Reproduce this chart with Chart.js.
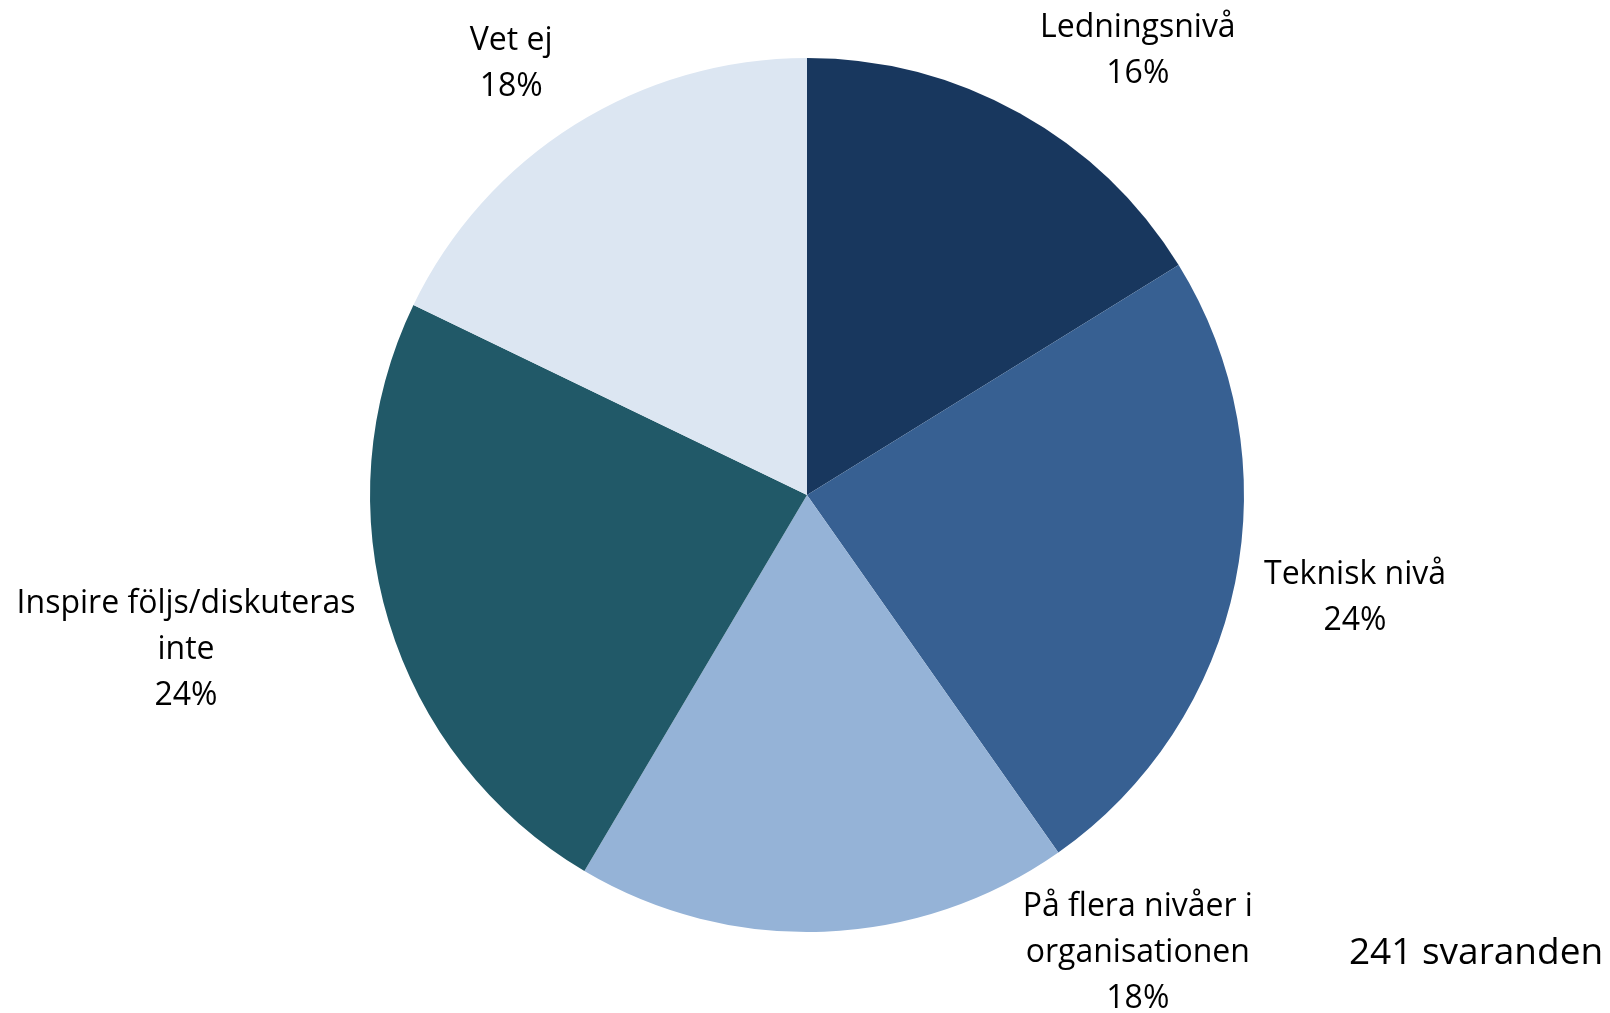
<!DOCTYPE html>
<html>
<head>
<meta charset="utf-8">
<script src="https://cdn.jsdelivr.net/npm/chart.js@4"></script>
<style>
  html, body { margin: 0; padding: 0; background: #fff; }
  #wrap { position: relative; width: 1610px; height: 1013px; }
</style>
</head>
<body>
<div id="wrap"><canvas id="chartPie" width="1610" height="1013"></canvas></div>
<script>
// Inspire — på vilken nivå följs/diskuteras Inspire (241 svaranden)

const kategorier = [
  ['Ledningsnivå'],
  ['Teknisk nivå'],
  ['På flera nivåer i', 'organisationen'],
  ['Inspire följs/diskuteras', 'inte'],
  ['Vet ej']
];
const antalSvar = [39, 58, 44, 57, 43];
const procentEtiketter = ['16%', '24%', '18%', '24%', '18%'];
const antalSvarande = '241 svaranden';

const farger = ['#18375e', '#376092', '#95b3d7', '#215968', '#dce6f2'];

// etikettplacering relativt cirkelns mitt, i radieenheter
const etikettPlats = [
  [0.757, -1.016],
  [1.254, 0.235],
  [0.757, 1.048],
  [-1.421, 0.355],
  [-0.677, -0.987]
];

const FONT = '"Open Sans", Lato, sans-serif';

const etikettPlugin = {
  id: 'etiketter',
  afterDraw(chart) {
    const ctx = chart.ctx;
    const arc = chart.getDatasetMeta(0).data[0];
    const cx = arc.x, cy = arc.y, r = arc.outerRadius;
    const lh = 46;
    ctx.save();
    ctx.fillStyle = '#000';
    ctx.textAlign = 'center';
    ctx.textBaseline = 'middle';
    ctx.font = `32px ${FONT}`;
    kategorier.forEach((rader, i) => {
      const lines = [...rader, procentEtiketter[i]];
      const x = cx + etikettPlats[i][0] * r;
      const y0 = cy + etikettPlats[i][1] * r - (lines.length - 1) * lh / 2;
      lines.forEach((t, j) => ctx.fillText(t, x, y0 + j * lh));
    });
    ctx.font = `37px ${FONT}`;
    ctx.fillText(antalSvarande, chart.width - 134, chart.height - 60);
    ctx.restore();
  }
};

new Chart(document.getElementById('chartPie'), {
  type: 'pie',
  data: {
    labels: kategorier.map(k => k.join(' ')),
    datasets: [{ data: antalSvar, backgroundColor: farger, borderWidth: 0 }]
  },
  options: {
    responsive: false,
    animation: false,
    layout: { padding: { top: 58, bottom: 81, left: 4, right: 0 } },
    plugins: { legend: { display: false }, tooltip: { enabled: false } }
  },
  plugins: [etikettPlugin]
});
</script>
</body>
</html>
